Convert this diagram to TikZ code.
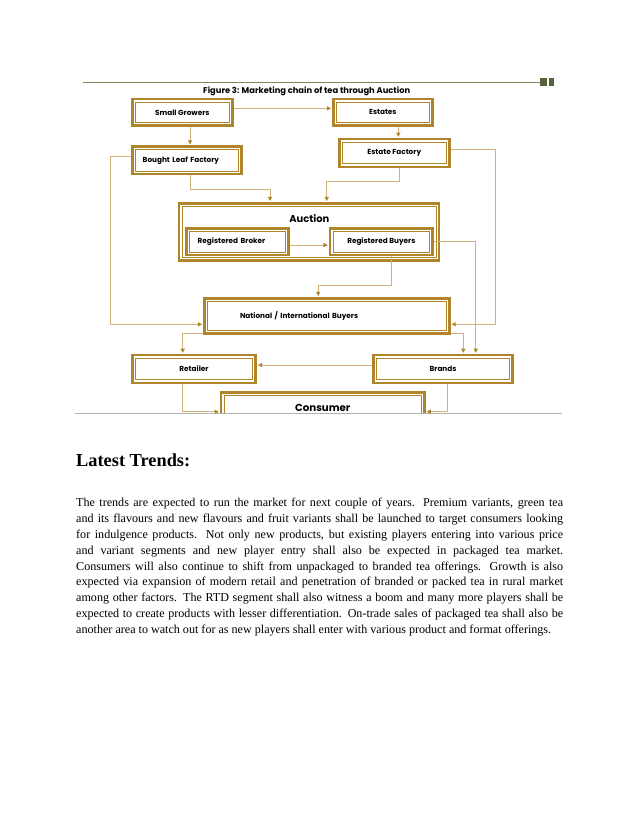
\documentclass[tikz,border=0pt]{standalone}
\usepackage{fontspec}
\setmainfont{Liberation Serif}
\newfontfamily\diagfont{Poppins}
\usetikzlibrary{arrows.meta,calc}

\definecolor{goldD}{HTML}{B08428}
\definecolor{goldL}{HTML}{D2B27C}
\definecolor{olive}{HTML}{7E8C5C}
\definecolor{oliveD}{HTML}{55633A}

\newcommand\fullline[1]{\hbox to 467.1pt{#1}}

\begin{document}
\begin{tikzpicture}[
    x=0.9592pt, y=-0.9592pt,
    gbox/.style={rectangle, draw=goldD, line width=2.4pt, fill=white, inner sep=0pt,
                 font=\diagfont\bfseries\fontsize{7}{8}\selectfont,
                 path picture={\draw[goldD, line width=0.9pt]
                   ([shift={(2.9pt,-2.9pt)}]path picture bounding box.north west) rectangle
                   ([shift={(-2.9pt,2.9pt)}]path picture bounding box.south east);}},
    lefttext/.style={align=left},
    biglbl/.style={font=\diagfont\bfseries\fontsize{9.5}{11}\selectfont, inner sep=0pt},
    arr/.style={draw=goldL, line width=0.8pt, shorten >=1pt,
                -{Triangle[length=4pt, width=4pt, color=goldD]}}
  ]
    \useasboundingbox (0,0) rectangle (638,826);

    %--- header rule ---
    \draw[olive, line width=1.3pt] (83,82.3) -- (540,82.3);
    \fill[oliveD] (540,78.3) rectangle (546.7,85.7);
    \fill[oliveD] (548.7,78.3) rectangle (554,85.7);
    \node[font=\diagfont\bfseries\fontsize{8}{9}\selectfont] (title) at (306.7,91)
      {Figure 3: Marketing chain of tea through Auction};

    %--- producers ---
    \node[gbox, minimum width=95.9pt, minimum height=25.6pt]  (grow) at (182.3,112.4) {Small Growers};
    \node[gbox, minimum width=95pt, minimum height=25.6pt]    (est)  at (382.8,112.4) {Estates};
    \node[gbox, minimum width=105.5pt, minimum height=26.6pt] (estf) at (394.3,153)   {Estate Factory};
    \node[gbox, minimum height=26.2pt, lefttext, text width=85pt, inner xsep=10pt]
                                                              (blf)  at (187,160.4)   {Bought Leaf Factory};

    %--- auction ---
    \node[gbox, minimum width=249.4pt, minimum height=55.1pt] (auc)  at (309,232) {};
    \node[biglbl]                                             (auclbl) at (309.3,219) {Auction};
    \node[gbox, minimum height=25.6pt, lefttext, text width=76.4pt, inner xsep=10.5pt]
                                                              (rbrok) at (237.5,241.7) {Registered Broker};
    \node[gbox, minimum width=98.5pt, minimum height=25.6pt]  (rbuy) at (381.3,241.7) {Registered Buyers};

    %--- buyers and trade ---
    \node[gbox, minimum height=33.6pt, lefttext, text width=166.5pt, inner xsep=34.2pt]
                                                              (nib)  at (326.8,315.8) {National / International Buyers};
    \node[gbox, minimum width=118.4pt, minimum height=26.6pt] (ret)  at (194,369)   {Retailer};
    \node[gbox, minimum width=133.7pt, minimum height=26.6pt] (brand) at (443,369)  {Brands};
    \begin{scope}
      \clip (0,0) rectangle (638,413.3);
      \node[gbox, minimum width=195pt, minimum height=30.7pt,
            font=\diagfont\bfseries\fontsize{9.8}{11}\selectfont] (cons) at (322.7,408.3) {Consumer};
    \end{scope}
    \draw[gray!60, line width=0.8pt] (75,413.3) -- (562,413.3);

    %--- rails ---
    \coordinate (lrail) at (110,324.3);
    \coordinate (rrail) at (495,324.3);

    %--- connectors ---
    \draw[arr] ([yshift=3.9pt]grow.east) -- ([yshift=3.9pt]est.west);
    \draw[arr] ([xshift=7.4pt]grow.south) -- ([xshift=7.4pt]grow.south |- blf.north);
    \draw[arr] ([xshift=14.9pt]est.south) -- ([xshift=14.9pt]est.south |- estf.north);
    \draw[arr] ([yshift=3.5pt]blf.west) -| (lrail) -- (lrail -| nib.west);
    \draw[arr] ([yshift=3.8pt]estf.east) -| (rrail) -- (rrail -| nib.east);
    \draw[arr] ([xshift=2.9pt]blf.south) -- ++(0,14.3) -| ([xshift=-37.4pt]auc.north);
    \draw[arr] ([xshift=4.8pt]estf.south) -- ++(0,13) -| ([xshift=17pt]auc.north);
    \draw[arr] ([yshift=-3.2pt]rbrok.east) -- ([yshift=-3.2pt]rbuy.west);
    \draw[arr] (rbuy.east) -| ([xshift=31.4pt]brand.north);
    \draw[arr] ([xshift=9.3pt]rbuy.south) -- ++(0,29) -| ([xshift=-8.2pt]nib.north);
    \draw[arr] ([yshift=1pt]nib.south west) -| ([xshift=-10.8pt]ret.north);
    \draw[arr] ([yshift=1pt]nib.south east) -| ([xshift=19.5pt]brand.north);
    \draw[arr] ([yshift=3.8pt]brand.west) -- ([yshift=3.8pt]ret.east);
    \draw[arr] ([xshift=-10.8pt]ret.south) |- ([yshift=-3.3pt]cons.west);
    \draw[arr] ([xshift=4.1pt]brand.south) |- ([yshift=-3.3pt]cons.east);

    %--- text below ---
    \node[anchor=base west, inner sep=0pt, font=\bfseries\fontsize{17.6}{20}\selectfont]
      (head) at (76,466.7) {Latest Trends:};
    \node[anchor=north west, inner sep=0pt, align=left,
          font=\fontsize{11.6}{15.2}\selectfont] (body) at (76,498)
      {\fullline{The trends are expected to run the market for next couple of years. Premium variants, green tea}\\
       \fullline{and its flavours and new flavours and fruit variants shall be launched to target consumers looking}\\
       \fullline{for indulgence products. Not only new products, but existing players entering into various price}\\
       \fullline{and variant segments and new player entry shall also be expected in packaged tea market.}\\
       \fullline{Consumers will also continue to shift from unpackaged to branded tea offerings. Growth is also}\\
       \fullline{expected via expansion of modern retail and penetration of branded or packed tea in rural market}\\
       \fullline{among other factors. The RTD segment shall also witness a boom and many more players shall be}\\
       \fullline{expected to create products with lesser differentiation. On-trade sales of packaged tea shall also be}\\
       another area to watch out for as new players shall enter with various product and format offerings.};
  \end{tikzpicture}
\end{document}
